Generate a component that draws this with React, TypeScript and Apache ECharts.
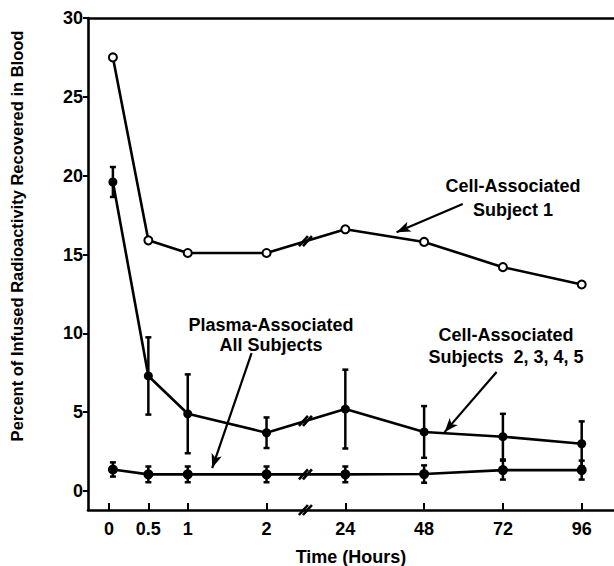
import React, { useEffect, useRef } from "react";
import * as echarts from "echarts";

// ---- data ----
const hours = [0.05, 0.5, 1, 2, 24, 48, 72, 96];
const subject1 = [27.5, 15.9, 15.1, 15.1, 16.6, 15.8, 14.2, 13.1];
const cellMean = [19.6, 7.3, 4.9, 3.7, 5.2, 3.75, 3.45, 3.0];
const cellErr = [0.95, 2.45, 2.5, 0.97, 2.5, 1.64, 1.45, 1.42];
const plasmaMean = [1.37, 1.06, 1.06, 1.06, 1.06, 1.08, 1.33, 1.33];
const plasmaErr = [0.45, 0.5, 0.5, 0.5, 0.5, 0.55, 0.6, 0.6];
const tickHours = [0, 0.5, 1, 2, 24, 48, 72, 96];
const tickLabels = ["0", "0.5", "1", "2", "24", "48", "72", "96"];
const yTicks = [0, 5, 10, 15, 20, 25, 30];

// broken time axis: 0..2 h linear, then one unit per 24 h
const toU = (t: number) => (t <= 2 ? t : 2 + t / 24);
const BREAK_U = 2.5;
const X_MIN = -0.266;
const X_MAX = 6.41;
const Y_MIN = -1.2;
const Y_MAX = 30;

const FONT = "Liberation Sans, Arial, Helvetica, sans-serif";

export default function App() {
  const ref = useRef<HTMLDivElement>(null);
  useEffect(() => {
    if (!ref.current) return;
    const chart = echarts.init(ref.current, null, { renderer: "svg" });
    const us = hours.map(toU);
    const tickU = tickHours.map(toU);

    const s1 = us.map((u, i) => [u, subject1[i]]);
    const cell = us.map((u, i) => [u, cellMean[i]]);
    const plasma = us.map((u, i) => [u, plasmaMean[i]]);
    const cellBars = us.map((u, i) => [u, cellMean[i] - cellErr[i], cellMean[i] + cellErr[i]]);
    const plasmaBars = us.map((u, i) => [u, plasmaMean[i] - plasmaErr[i], plasmaMean[i] + plasmaErr[i]]);

    const mid = (arr: number[]) => (arr[3] + arr[4]) / 2;
    const breaks = [
      [BREAK_U, mid(subject1)],
      [BREAK_U, mid(cellMean)],
      [BREAK_U, mid(plasmaMean)],
      [BREAK_U, Y_MIN],
    ];

    const errRender = (params: any, api: any) => {
      const x = api.value(0);
      const lo = api.coord([x, api.value(1)]);
      const hi = api.coord([x, api.value(2)]);
      const c = 3;
      const st = { stroke: "#000", lineWidth: 2.5 };
      return {
        type: "group",
        children: [
          { type: "line", shape: { x1: hi[0], y1: hi[1], x2: lo[0], y2: lo[1] }, style: st },
          { type: "line", shape: { x1: hi[0] - c, y1: hi[1], x2: hi[0] + c, y2: hi[1] }, style: st },
          { type: "line", shape: { x1: lo[0] - c, y1: lo[1], x2: lo[0] + c, y2: lo[1] }, style: st },
        ],
      };
    };

    const breakRender = (params: any, api: any) => {
      const p = api.coord([api.value(0), api.value(1)]);
      const st = { stroke: "#000", lineWidth: 2.6 };
      return {
        type: "group",
        children: [
          { type: "line", shape: { x1: p[0] - 7, y1: p[1] + 5, x2: p[0] + 2, y2: p[1] - 5 }, style: st },
          { type: "line", shape: { x1: p[0] - 3, y1: p[1] + 5, x2: p[0] + 6, y2: p[1] - 5 }, style: st },
        ],
      };
    };

    const labelStyle = { color: "#000", fontFamily: FONT, fontWeight: "bold" as const, fontSize: 18 };
    const axisLine = { show: true, onZero: false, lineStyle: { color: "#000", width: 2.6 } };

    chart.setOption({
      animation: false,
      backgroundColor: "#fff",
      grid: { left: 88, right: 0, top: 18, bottom: 56, containLabel: false, outerBoundsMode: "none" },
      xAxis: [
        {
          type: "value",
          min: X_MIN,
          max: X_MAX,
          position: "bottom",
          axisLine,
          splitLine: { show: false },
          axisTick: { show: true, inside: true, length: 7, lineStyle: { color: "#000", width: 2 }, customValues: tickU },
          axisLabel: {
            ...labelStyle,
            margin: 10,
            customValues: tickU,
            formatter: (v: number) => {
              const i = tickU.findIndex((t) => Math.abs(t - v) < 1e-6);
              return i >= 0 ? tickLabels[i] : "";
            },
          },
          name: "Time (Hours)",
          nameLocation: "middle",
          nameGap: 38,
          nameTextStyle: { ...labelStyle, fontSize: 18 },
        },
        {
          type: "value",
          min: X_MIN,
          max: X_MAX,
          position: "top",
          axisLine,
          splitLine: { show: false },
          axisTick: { show: false },
          axisLabel: { show: false },
        },
      ],
      yAxis: {
        type: "value",
        min: Y_MIN,
        max: Y_MAX,
        axisLine,
        splitLine: { show: false },
        axisTick: { show: true, inside: false, length: 5, lineStyle: { color: "#000", width: 2 }, customValues: yTicks },
        axisLabel: { ...labelStyle, margin: 5, customValues: yTicks },
      },
      graphic: [
        {
          type: "text",
          x: 17,
          y: 236,
          rotation: Math.PI / 2,
          style: {
            text: "Percent of Infused Radioactivity Recovered in Blood",
            align: "center",
            verticalAlign: "middle",
            fontFamily: FONT,
            fontWeight: "bold",
            fontSize: 16.5,
            fill: "#000",
          },
        },
        {
          type: "text",
          x: 513,
          y: 198,
          style: {
            text: "Cell-Associated\nSubject 1",
            align: "center",
            verticalAlign: "middle",
            fontFamily: FONT,
            fontWeight: "bold",
            fontSize: 18,
            lineHeight: 24,
            fill: "#000",
          },
        },
        {
          type: "text",
          x: 271,
          y: 335,
          style: {
            text: "Plasma-Associated\nAll Subjects",
            align: "center",
            verticalAlign: "middle",
            fontFamily: FONT,
            fontWeight: "bold",
            fontSize: 18,
            lineHeight: 20,
            fill: "#000",
          },
        },
        {
          type: "text",
          x: 506,
          y: 346,
          style: {
            text: "Cell-Associated\nSubjects  2, 3, 4, 5",
            align: "center",
            verticalAlign: "middle",
            fontFamily: FONT,
            fontWeight: "bold",
            fontSize: 18,
            lineHeight: 22,
            fill: "#000",
          },
        },
      ],
      series: [
        {
          name: "Cell-Associated Subject 1",
          type: "line",
          data: s1,
          symbol: "emptyCircle",
          symbolSize: 8,
          lineStyle: { color: "#000", width: 2.6 },
          itemStyle: { color: "#000", borderColor: "#000", borderWidth: 2 },
          z: 3,
          markLine: {
            silent: true,
            symbol: ["none", "arrow"],
            symbolSize: [8, 14],
            label: { show: false },
            lineStyle: { color: "#000", width: 2.2, type: "solid" },
            data: [
              [{ coord: [4.49, 18.2] }, { coord: [3.65, 16.42] }],
              [{ coord: [1.81, 8.75] }, { coord: [1.31, 1.46] }],
              [{ coord: [4.92, 7.55] }, { coord: [4.26, 3.74] }],
            ],
          },
        },
        {
          name: "Cell-Associated Subjects 2-5",
          type: "line",
          data: cell,
          symbol: "circle",
          symbolSize: 9,
          lineStyle: { color: "#000", width: 2.6 },
          itemStyle: { color: "#000" },
          z: 3,
        },
        {
          name: "Plasma-Associated All Subjects",
          type: "line",
          data: plasma,
          symbol: "circle",
          symbolSize: 10,
          lineStyle: { color: "#000", width: 2.6 },
          itemStyle: { color: "#000" },
          z: 3,
        },
        {
          type: "custom",
          renderItem: errRender,
          data: cellBars,
          encode: { x: 0, y: [1, 2] },
          z: 2,
        },
        {
          type: "custom",
          renderItem: errRender,
          data: plasmaBars,
          encode: { x: 0, y: [1, 2] },
          z: 2,
        },
        {
          type: "custom",
          renderItem: breakRender,
          data: breaks,
          encode: { x: 0, y: 1 },
          clip: false,
          z: 5,
        },
      ],
    });
    return () => chart.dispose();
  }, []);

  return (
    <div
      ref={ref}
      style={{ position: "fixed", left: 0, top: 0, width: 614, height: 566, background: "#fff" }}
    />
  );
}
